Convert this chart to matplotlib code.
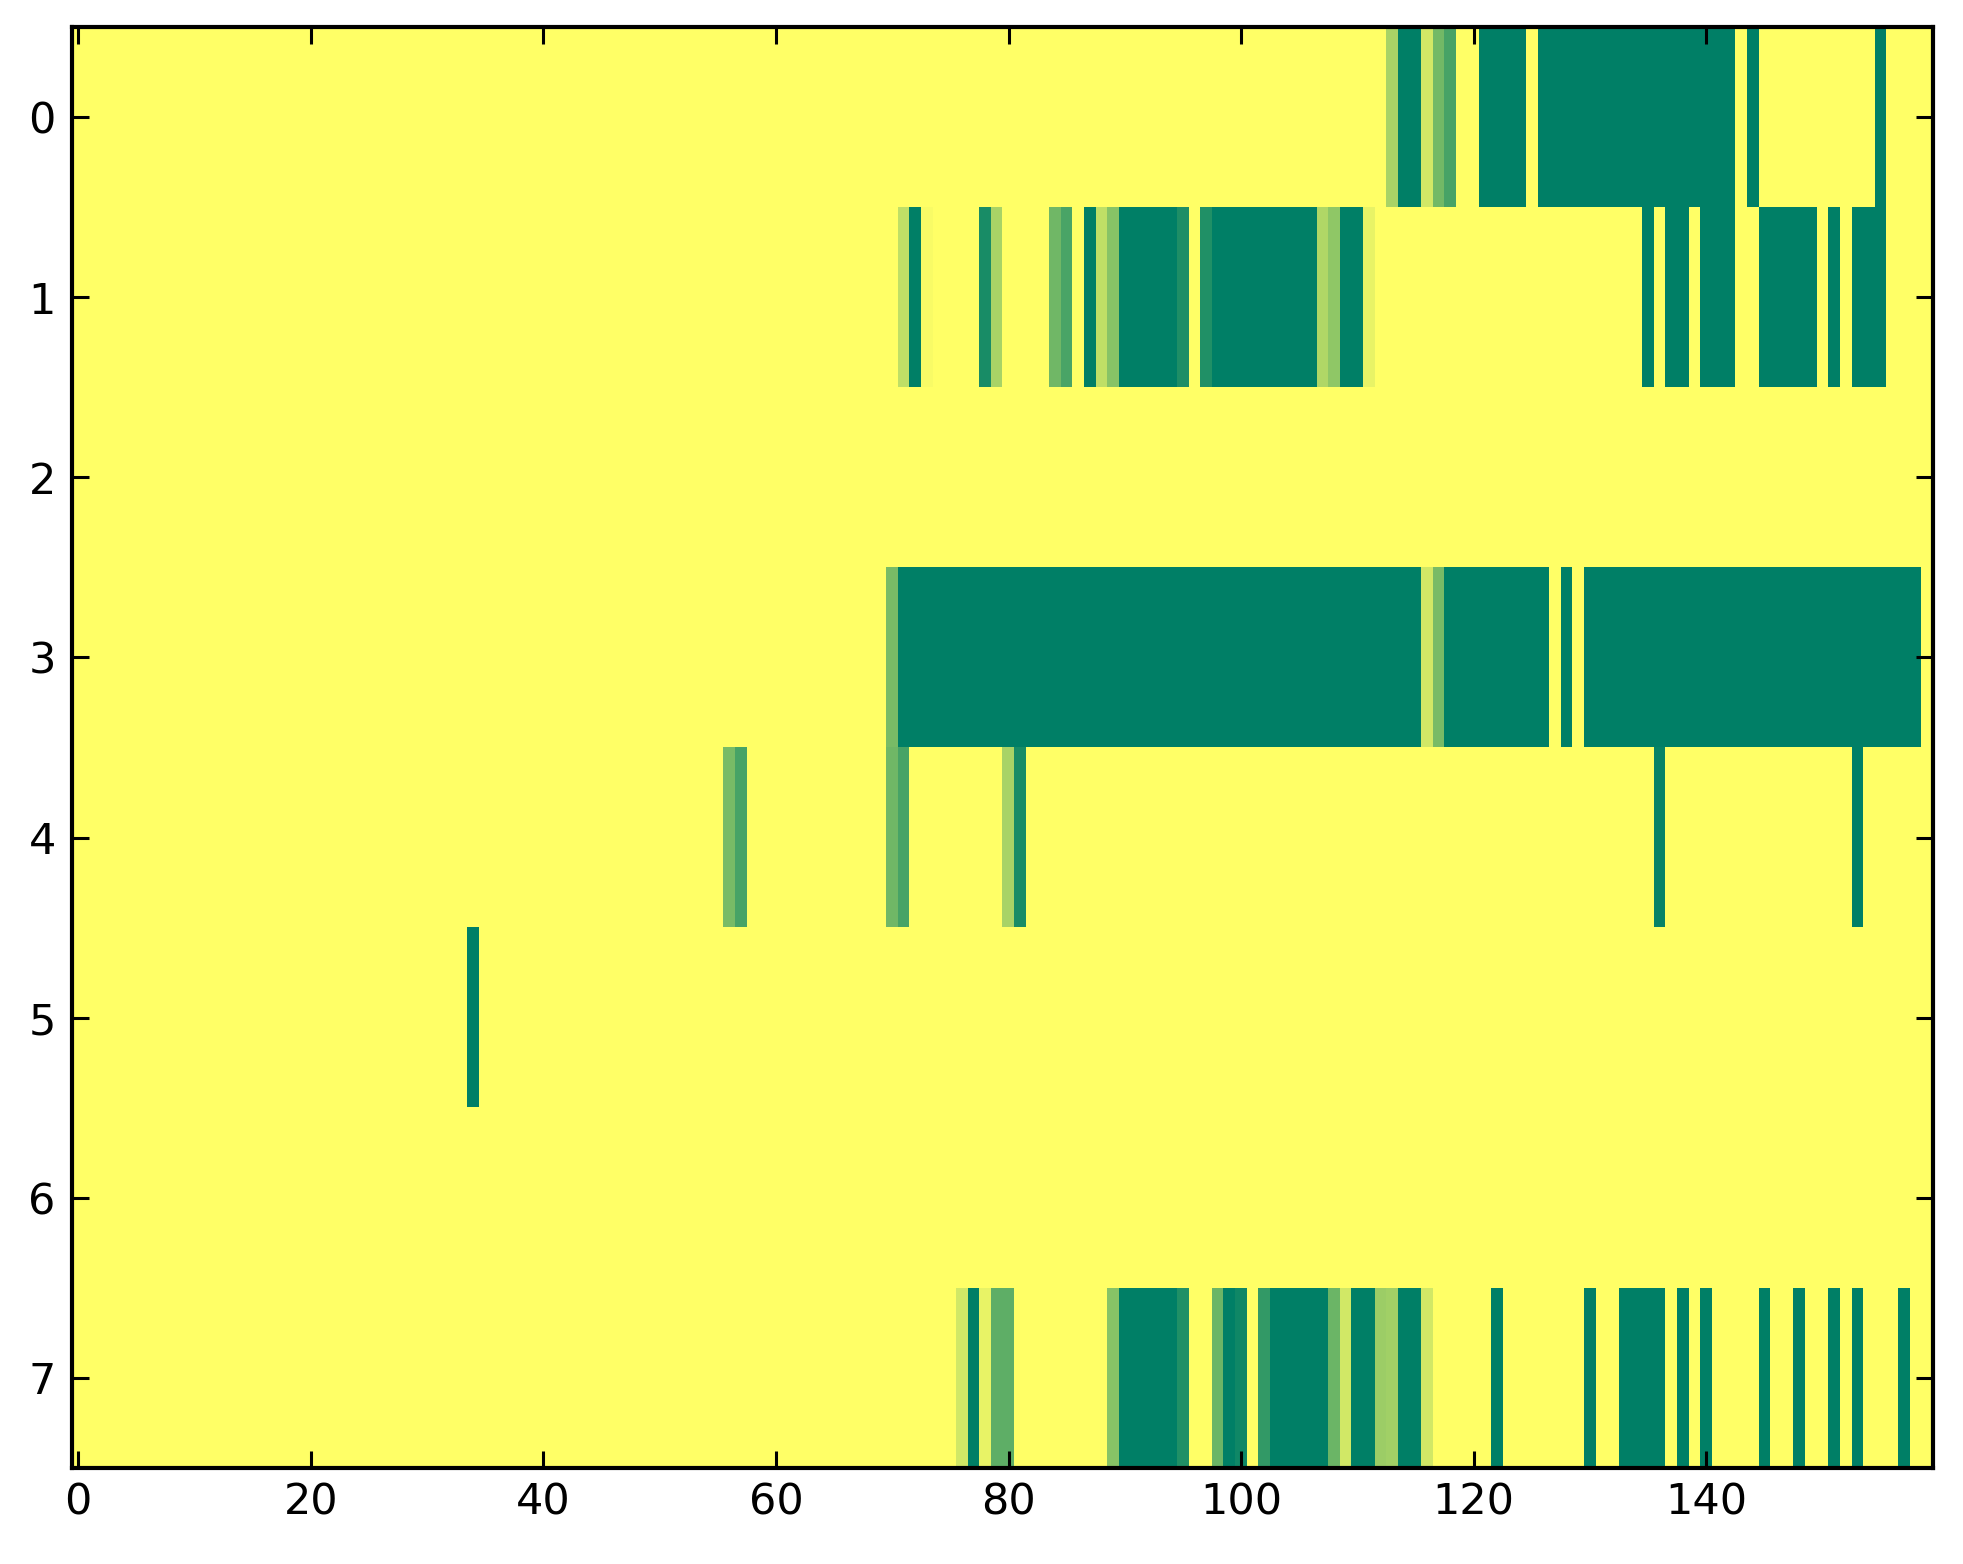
"""
Heatmap 8 x 160 (summer_r), estilo matplotlib clasico.
"""
import matplotlib

matplotlib.use("Agg")
import matplotlib.pyplot as plt
import numpy as np

N_ROWS = 8
N_COLS = 160

# tramos por fila: (primera columna, ultima columna, valor)
row0 = [(113, 113, 0.34), (114, 115, 1.0), (116, 116, 0.18), (117, 117, 0.55),
        (118, 118, 0.72), (121, 124, 1.0), (126, 142, 1.0), (144, 144, 1.0),
        (155, 155, 1.0)]
row1 = [(71, 71, 0.25), (72, 72, 1.0), (73, 73, 0.03), (78, 78, 0.90),
        (79, 79, 0.34), (84, 84, 0.56), (85, 85, 0.71), (87, 87, 1.0),
        (88, 88, 0.25), (89, 89, 0.47), (90, 94, 1.0), (95, 95, 0.88),
        (97, 97, 0.87), (98, 106, 1.0), (107, 107, 0.31), (108, 108, 0.44),
        (109, 110, 1.0), (111, 111, 0.09), (135, 135, 1.0), (137, 138, 1.0),
        (140, 142, 1.0), (145, 149, 1.0), (151, 151, 1.0), (153, 155, 1.0)]
row2 = []
row3 = [(70, 70, 0.53), (71, 115, 1.0), (116, 116, 0.18), (117, 117, 0.53),
        (118, 126, 1.0), (128, 128, 1.0), (130, 158, 1.0)]
row4 = [(56, 56, 0.53), (57, 57, 0.72), (70, 70, 0.56), (71, 71, 0.72),
        (80, 80, 0.34), (81, 81, 0.90), (136, 136, 0.97), (153, 153, 1.0)]
row5 = [(34, 34, 1.0)]
row6 = []
row7 = [(76, 76, 0.18), (77, 77, 1.0), (78, 78, 0.09), (79, 80, 0.63),
        (89, 89, 0.47), (90, 94, 1.0), (95, 95, 0.87), (98, 98, 0.58),
        (99, 99, 1.0), (100, 100, 0.94), (102, 102, 0.80), (103, 107, 1.0),
        (108, 108, 0.58), (109, 109, 0.18), (110, 111, 1.0), (112, 112, 0.39),
        (113, 113, 0.37), (114, 115, 1.0), (116, 116, 0.18), (122, 122, 1.0),
        (130, 130, 1.0), (133, 136, 1.0), (138, 138, 1.0), (140, 140, 1.0),
        (145, 145, 1.0), (148, 148, 1.0), (151, 151, 1.0), (153, 153, 1.0),
        (157, 157, 1.0)]

rows = [row0, row1, row2, row3, row4, row5, row6, row7]
x_ticks = [0, 20, 40, 60, 80, 100, 120, 140]
y_ticks = list(range(N_ROWS))


def main():
    data = np.zeros((N_ROWS, N_COLS))
    for r, runs in enumerate(rows):
        for a, b, v in runs:
            data[r, a:b + 1] = v

    fig = plt.figure(figsize=(9.815, 7.82), dpi=200)
    ax = fig.add_axes([0.0369, 0.0614, 0.9478, 0.9213])
    ax.imshow(data, cmap="summer_r", vmin=0, vmax=1, aspect="auto",
              interpolation="nearest")

    ax.set_xticks(x_ticks)
    ax.set_yticks(y_ticks)
    ax.tick_params(direction="in", top=True, right=True, length=6, width=1.1,
                   labelsize=15.5, pad=6)
    ax.tick_params(axis="x", pad=5)
    for s in ax.spines.values():
        s.set_linewidth(1.5)

    fig.savefig("out.png", dpi=200, facecolor="white")


if __name__ == "__main__":
    main()
